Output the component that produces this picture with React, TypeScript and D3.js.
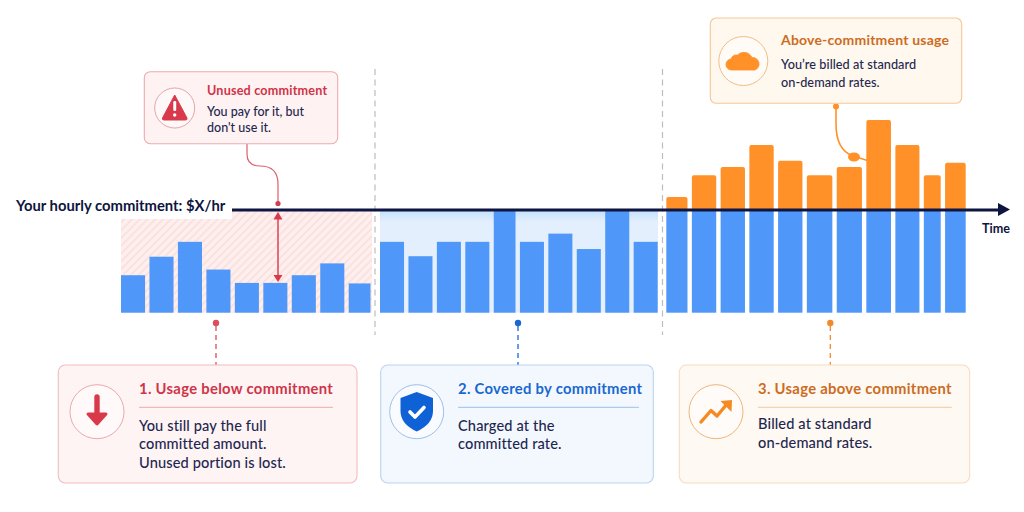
import React from "react";
import * as d3 from "d3";

// ---- data (hourly usage as % of the commitment) ----
const commitment = 100;
const usageBelow = [36.5, 54.5, 69, 42, 29, 29, 36.5, 48, 28.5];
const weightsBelow = [1, 1, 1, 1, 1, 1, 1, 1, 0.92];
const usageCovered = [69, 55, 69, 69, 100, 69, 77, 62, 100, 69];
const weightsCovered = [1, 1, 1, 1, 0.92, 1, 1, 1, 1, 1];
const usageAbove = [112.6, 133.8, 141.9, 163.3, 148, 133.8, 141.9, 187.6, 163.3, 133.8, 146];
const weightsAbove = [0.89, 1, 1, 1, 1, 1.04, 1.03, 1.01, 0.99, 0.74, 0.87];

const axisLabel = "Your hourly commitment: $X/hr";
const timeLabel = "Time";
const unusedTitle = "Unused commitment";
const unusedBody = ["You pay for it, but", "don't use it."];
const aboveTitle = "Above-commitment usage";
const aboveBody = ["You’re billed at standard", "on-demand rates."];
const card1Title = "1. Usage below commitment";
const card1Body = ["You still pay the full", "committed amount.", "Unused portion is lost."];
const card2Title = "2. Covered by commitment";
const card2Body = ["Charged at the", "committed rate."];
const card3Title = "3. Usage above commitment";
const card3Body = ["Billed at standard", "on-demand rates."];

const FONT = "Lato, 'Open Sans', sans-serif";
const INK = "#1e2750";
const NAVY = "#0d1540";
const BLUE = "#4f97f8";
const ORANGE = "#ff9128";
const RED = "#d93a4b";
const DEEPBLUE = "#1a68cf";
const DEEPORANGE = "#cc6c1f";

const y = d3.scaleLinear().domain([0, commitment]).range([312.7, 210]);
const GAP = 4.4;

function layout(weights: number[], x0: number, x1: number) {
  const total = d3.sum(weights);
  const x = d3.scaleLinear().domain([0, total]).range([x0, x1 + GAP]);
  const cum = d3.cumsum(weights);
  return weights.map((w, i) => ({ x: x(i === 0 ? 0 : cum[i - 1]), w: x(cum[i]) - x(i === 0 ? 0 : cum[i - 1]) - GAP }));
}

const slots1 = layout(weightsBelow, 121, 370.5);
const slots2 = layout(weightsCovered, 380, 657.7);
const slots3 = layout(weightsAbove, 666.3, 965.7);

const roundedTop = (x: number, top: number, w: number, bottom: number, r: number) => {
  const p = d3.path();
  p.moveTo(x, bottom);
  p.lineTo(x, top + r);
  p.quadraticCurveTo(x, top, x + r, top);
  p.lineTo(x + w - r, top);
  p.quadraticCurveTo(x + w, top, x + w, top + r);
  p.lineTo(x + w, bottom);
  p.closePath();
  return p.toString();
};

function Lines({ x, ys, lines, size = 14, fill = INK, spacing = 0.15 }: { x: number; ys: number[]; lines: string[]; size?: number; fill?: string; spacing?: number }) {
  return (
    <>
      {lines.map((t, i) => (
        <text key={t} x={x} y={ys[i]} fontSize={size} fill={fill} fontWeight={500} letterSpacing={spacing}>
          {t}
        </text>
      ))}
    </>
  );
}

function Card(p: {
  x: number; x2: number; fill: string; stroke: string; cx: number; tx: number; rx: number;
  color: string; rule: string; title: string; body: string[]; ys: number[]; children: React.ReactNode;
}) {
  return (
    <g>
      <rect x={p.x} y={365} width={p.x2 - p.x} height={118} rx={7} fill={p.fill} stroke={p.stroke} strokeWidth={1.1} />
      <circle cx={p.cx} cy={411.7} r={27} fill="#fffdfd" fillOpacity={0.5} stroke={p.stroke === "#f8dcbd" ? "#efb57c" : p.rule} strokeWidth={1} />
      {p.children}
      <text x={p.tx} y={394} fontSize={14.8} fontWeight={700} fill={p.color} letterSpacing={0.3}>{p.title}</text>
      <line x1={p.tx} x2={p.rx} y1={407.3} y2={407.3} stroke={p.rule} strokeWidth={1} />
      <Lines x={p.tx} ys={p.ys} lines={p.body} size={14.6} spacing={0.12} />
    </g>
  );
}

function Lead({ x, color }: { x: number; color: string }) {
  return (
    <g>
      <circle cx={x} cy={323} r={3.2} fill={color} />
      <line x1={x} x2={x} y1={326} y2={365} stroke={color} strokeWidth={1.3} strokeDasharray="5 4" />
    </g>
  );
}

export default function App() {
  return (
    <svg width={1024} height={512} viewBox="0 0 1024 512" style={{ position: "fixed", left: 0, top: 0, background: "#fff" }} fontFamily={FONT}>
      <defs>
        <pattern id="hatch" width={5.5} height={5.5} patternUnits="userSpaceOnUse" patternTransform="rotate(45)">
          <rect width={5.5} height={5.5} fill="#fdefee" />
          <rect width={1.8} height={5.5} fill="#fbe0de" />
        </pattern>
        <linearGradient id="coveredBg" x1={0} x2={0} y1={0} y2={1}>
          <stop offset={0} stopColor="#c3e1fb" />
          <stop offset={0.12} stopColor="#e4effd" />
          <stop offset={1} stopColor="#e6f0fd" />
        </linearGradient>
      </defs>

      {/* dividers */}
      {[375, 662.5].map((x) => (
        <line key={x} x1={x} x2={x} y1={69} y2={335} stroke="#bdbdbd" strokeWidth={1.2} strokeDasharray="6 4.5" />
      ))}

      {/* zones */}
      <rect x={121} y={y(commitment)} width={251} height={y(0) - y(commitment)} fill="url(#hatch)" />
      <rect x={380} y={y(commitment)} width={278} height={y(0) - y(commitment)} fill="url(#coveredBg)" />
      <rect x={10} y={194} width={222} height={25} fill="#fff" />

      {/* bars */}
      {usageBelow.map((v, i) => (
        <rect key={i} x={slots1[i].x} y={y(v)} width={slots1[i].w} height={y(0) - y(v)} fill={BLUE} />
      ))}
      {usageCovered.map((v, i) => (
        <rect key={i} x={slots2[i].x} y={y(v)} width={slots2[i].w} height={y(0) - y(v)} fill={BLUE} />
      ))}
      {usageAbove.map((v, i) => (
        <g key={i}>
          <path d={roundedTop(slots3[i].x, y(v), slots3[i].w, y(commitment), 2)} fill={ORANGE} />
          <rect x={slots3[i].x} y={y(commitment)} width={slots3[i].w} height={y(0) - y(commitment)} fill={BLUE} />
        </g>
      ))}

      {/* commitment axis */}
      <line x1={232} x2={1000} y1={y(commitment)} y2={y(commitment)} stroke={NAVY} strokeWidth={3} />
      <path d="M998 203 L1010 209.5 L998 216 Z" fill={NAVY} />
      <text x={16} y={211} fontSize={14.8} fontWeight={700} fill={NAVY}>{axisLabel}</text>
      <text x={982} y={232.7} fontSize={12.6} fontWeight={700} fill={NAVY}>{timeLabel}</text>

      {/* unused arrow */}
      <path d="M247 144 V154 Q247 166 260 166 Q278 166 278 184 V203" fill="none" stroke="#de5f69" strokeWidth={1.2} />
      <circle cx={278} cy={203.5} r={2.6} fill="#cf3f4e" />
      <line x1={278} x2={278} y1={216} y2={276} stroke={RED} strokeWidth={1.4} />
      <path d="M278 212 L282.5 219.5 L273.5 219.5 Z" fill={RED} />
      <path d="M278 282 L282.5 275 L273.5 275 Z" fill={RED} />

      {/* unused callout */}
      <rect x={144.3} y={71.7} width={193.4} height={72} rx={6} fill="#fef2f2" stroke="#eeaaad" strokeWidth={1.1} />
      <circle cx={174.7} cy={108} r={20} fill="#fff8f8" stroke="#e9a3a7" strokeWidth={1} />
      <path d="M174.7 95 L187 118 Q187.5 120 185.5 120 L164 120 Q162 120 162.5 118 Z" fill={RED} stroke={RED} strokeWidth={1} strokeLinejoin="round" />
      <rect x={173.3} y={101} width={2.9} height={10} rx={1.2} fill="#fff" />
      <circle cx={174.7} cy={115} r={1.7} fill="#fff" />
      <text x={207} y={94.7} fontSize={12.6} fontWeight={700} fill="#cf3448" letterSpacing={0.2}>{unusedTitle}</text>
      <Lines x={207} ys={[115.7, 132]} lines={unusedBody} size={12.5} spacing={0} />

      {/* above callout */}
      <path d="M836 106 V124 Q836 150 853 156 L882 165" fill="none" stroke={ORANGE} strokeWidth={1.6} />
      <circle cx={836} cy={106.5} r={3} fill={ORANGE} />
      <ellipse cx={854} cy={157} rx={6} ry={4.6} fill={ORANGE} />
      <rect x={710.3} y={18} width={251.4} height={85.3} rx={6} fill="#fff8ef" stroke="#f6c792" strokeWidth={1.1} />
      <circle cx={743.3} cy={61} r={24.5} fill="#fffbf6" stroke="#f3bd85" strokeWidth={1} />
      <path d="M732 70 A5.5 5.5 0 0 1 731 59 A6 6 0 0 1 737.5 55 A9 9 0 0 1 752 57.5 A6.5 6.5 0 0 1 755 70 Z" fill={ORANGE} stroke={ORANGE} strokeWidth={0.8} strokeLinejoin="round" />
      <text x={781} y={45} fontSize={14} fontWeight={700} fill={DEEPORANGE} letterSpacing={0.2}>{aboveTitle}</text>
      <Lines x={781} ys={[69, 87]} lines={aboveBody} size={12.7} spacing={0.05} />

      {/* leads */}
      <Lead x={216} color="#d9505c" />
      <Lead x={518} color={DEEPBLUE} />
      <Lead x={830.3} color="#f08a2e" />

      {/* cards */}
      <Card x={58.3} x2={357} fill="#fef4f4" stroke="#f3bcbe" cx={97} tx={139} rx={333} color="#cf3448" rule="#eba9ac" title={card1Title} body={card1Body} ys={[430.7, 449, 467.7]}>
        <path d="M97 397 V417" stroke={RED} strokeWidth={5.4} strokeLinecap="round" fill="none" />
        <path d="M88 414 H106 L97 424 Z" fill={RED} stroke={RED} strokeWidth={3} strokeLinejoin="round" />
      </Card>
      <Card x={380.7} x2={653.3} fill="#f3f8fe" stroke="#b9d3f0" cx={416.7} tx={458} rx={639} color={DEEPBLUE} rule="#9dc0e8" title={card2Title} body={card2Body} ys={[430.7, 449]}>
        <path d="M416.7 392 L433 398 V411 Q433 424 416.7 431.5 Q400.5 424 400.5 411 V398 Z" fill="#0f62d6" />
        <path d="M410 412 L415 417 L424 407.5" fill="none" stroke="#fff" strokeWidth={3.6} strokeLinecap="round" strokeLinejoin="round" />
      </Card>
      <Card x={679.3} x2={969.7} fill="#fef9f3" stroke="#f8dcbd" cx={716} tx={758} rx={951.7} color={DEEPORANGE} rule="#f1c89c" title={card3Title} body={card3Body} ys={[429, 447.7]}>
        <path d="M701 422 L711 410.5 L717 416 L727 404" fill="none" stroke="#f58a24" strokeWidth={3.4} strokeLinecap="round" strokeLinejoin="round" />
        <path d="M720.5 401 L732 400 L731.5 412 Z" fill="#f58a24" />
      </Card>
    </svg>
  );
}
